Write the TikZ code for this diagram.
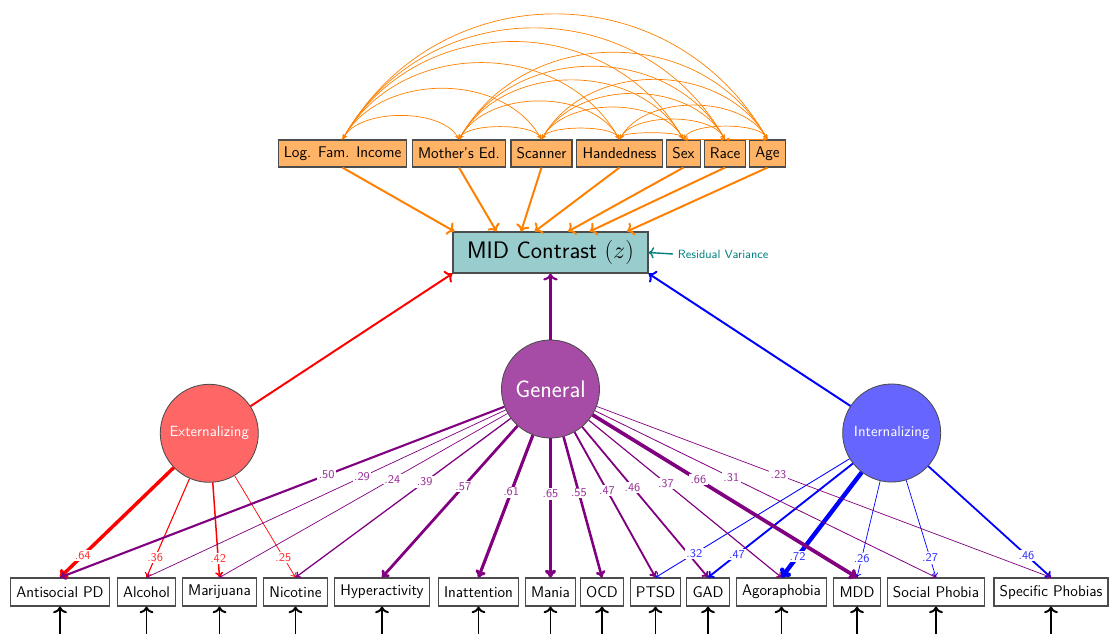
\documentclass[tikz,border=0pt]{standalone}
\usepackage{amsmath}
\usetikzlibrary{arrows.meta,calc}
\renewcommand{\familydefault}{\sfdefault}
\definecolor{genpurple}{RGB}{128,0,128}
\definecolor{covorange}{RGB}{255,128,0}
\pgfdeclarelayer{labels}
\pgfsetlayers{main,labels}
\tikzset{
  obsbox/.style={draw=black!70, line width=0.8pt, fill=white,
    minimum height=0.7cm, inner xsep=4pt, font=\fontsize{11}{13}\selectfont},
  covbox/.style={obsbox, fill=covorange!60, minimum height=0.675cm},
  latent/.style={circle, draw=black!70, line width=0.6pt,
    minimum size=2.45cm, inner sep=0pt, text=white},
  covar/.style={{Stealth[length=3.5pt,width=3pt]}-{Stealth[length=3.5pt,width=3pt]},
    covorange, line width=0.5pt},
  regress/.style={->, covorange, line width=1.4pt},
  loadtip/.style={-{To[length=2.5pt 1.2, width=4pt 1.6]}},
  loadlbl/.style={fill=white, inner sep=1pt, font=\fontsize{8.5}{10}\selectfont},
  errarrow/.style={->, line width=1.4pt}
}
% loading arrow: from, to, value (x100), colour, label position
\newcommand{\loading}[5]{%
  \pgfmathsetmacro{\lw}{max(0.5,6*(#3/100)^2)}%
  \draw[loadtip, #4, line width=\lw pt] (#1) -- (#2.north);%
  \begin{pgfonlayer}{labels}
    \path (#1) -- node[loadlbl, pos=#5, text=#4!80] {.#3} (#2.north);
  \end{pgfonlayer}%
}

\begin{document}
\begin{tikzpicture}[x=0.025cm, y=-0.025cm]
  \useasboundingbox (0,0) rectangle (1114,633);

  % covariates
  \node[covbox] (inc)  at (342.5,153.5) {Log. Fam. Income};
  \node[covbox] (med)  at (459,153.5)   {Mother's Ed.};
  \node[covbox] (scan) at (541.5,153.5) {Scanner};
  \node[covbox] (hand) at (619.5,153.5) {Handedness};
  \node[covbox] (sex)  at (683.5,153.5) {Sex};
  \node[covbox] (race) at (725,153.5)   {Race};
  \node[covbox] (age)  at (767.5,153.5) {Age};

  % outcome
  \node[draw=black!70, line width=0.8pt, fill=teal!40, minimum width=4.875cm,
        minimum height=1.025cm, font=\fontsize{17}{20}\selectfont]
        (mid) at (550.5,252.5) {MID Contrast $(z)$};
  \node[anchor=west, text=teal, font=\fontsize{8.5}{10}\selectfont]
        (resid) at (673,254) {Residual Variance};
  \draw[->, teal, line width=1pt] (resid.west) -- (mid.east);

  % latent factors
  \node[latent, fill=genpurple!70, font=\fontsize{17}{20}\selectfont] (gen) at (550.5,389) {General};
  \node[latent, fill=red!60, font=\fontsize{10.5}{12}\selectfont] (ext) at (209.3,433.3) {Externalizing};
  \node[latent, fill=blue!60, font=\fontsize{10.5}{12}\selectfont] (int) at (891.7,433) {Internalizing};

  % indicators
  \node[obsbox] (asp) at (60,592)    {Antisocial PD};
  \node[obsbox] (alc) at (146.5,592) {Alcohol};
  \node[obsbox] (mar) at (219.5,592) {Marijuana};
  \node[obsbox] (nic) at (295.5,592) {Nicotine};
  \node[obsbox] (hyp) at (382,592)   {Hyperactivity};
  \node[obsbox] (ina) at (478.5,592) {Inattention};
  \node[obsbox] (man) at (550.5,592) {Mania};
  \node[obsbox] (ocd) at (602,592)   {OCD};
  \node[obsbox] (pts) at (655.5,592) {PTSD};
  \node[obsbox] (gad) at (708,592)   {GAD};
  \node[obsbox] (ago) at (781.5,592) {Agoraphobia};
  \node[obsbox] (mdd) at (857,592)   {MDD};
  \node[obsbox] (soc) at (936,592)   {Social Phobia};
  \node[obsbox] (spe) at (1051,592)  {Specific Phobias};

  % residual errors
  \foreach \o in {asp,alc,mar,nic,hyp,ina,man,ocd,pts,gad,ago,mdd,soc,spe} {
    \coordinate (\o-e) at ([yshift=-0.72cm]\o.south);
    \draw[errarrow] (\o-e) -- (\o.south);
  }

  % factors -> outcome
  \draw[->, red, line width=1.4pt] (ext) -- (mid.south west);
  \draw[->, genpurple, line width=1.5pt] (gen) -- (mid.south);
  \draw[->, blue, line width=1.4pt] (int) -- (mid.south east);

  % covariates -> outcome
  \foreach \c/\f in {inc/0.01, med/0.225, scan/0.35, hand/0.42, sex/0.59, race/0.70, age/0.89}
    \draw[regress] (\c.south) -- ($(mid.north west)!\f!(mid.north east)$);

  % covariances among covariates
  \foreach \ca/\xa [count=\i] in {inc/342.5,med/459,scan/541.5,hand/619.5,sex/683.5,race/725,age/767.5}
    \foreach \cb/\xb [count=\j] in {inc/342.5,med/459,scan/541.5,hand/619.5,sex/683.5,race/725,age/767.5} {
      \ifnum\j>\i
        \pgfmathsetmacro{\loose}{(0.33-15/(\xb-\xa))/0.254}
        \draw[covar] (\ca.north) to[bend left=60, looseness=\loose] (\cb.north);
      \fi
    }

  % loadings
  \foreach \o/\v in {asp/64, alc/36, mar/42, nic/25}
    {\loading{ext}{\o}{\v}{red}{0.8}}
  \foreach \o/\v in {pts/32, gad/47, ago/72, mdd/26, soc/27, spe/46}
    {\loading{int}{\o}{\v}{blue}{0.8}}
  \foreach \o/\v in {asp/50, alc/29, mar/24, nic/39, hyp/57, ina/61, man/65,
                     ocd/55, pts/47, gad/46, ago/37, mdd/66, soc/31, spe/23}
    {\loading{gen}{\o}{\v}{genpurple}{0.4}}
\end{tikzpicture}
\end{document}
